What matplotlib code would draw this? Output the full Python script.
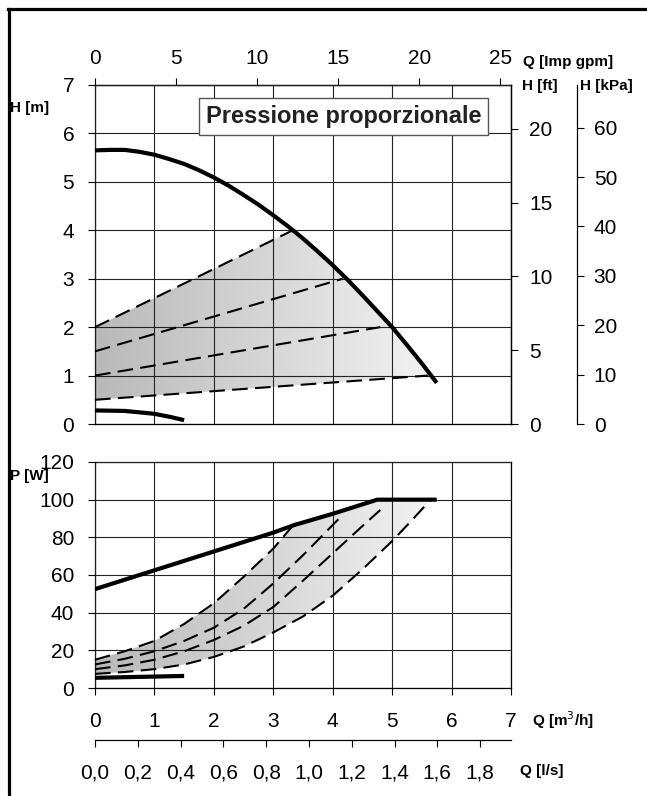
import numpy as np
import matplotlib
matplotlib.use("Agg")
import matplotlib.pyplot as plt
from matplotlib.colors import LinearSegmentedColormap
from matplotlib.lines import Line2D
from matplotlib.patches import Polygon

plt.rcParams['font.family'] = ['Liberation Sans', 'DejaVu Sans']

# head curves  (Q in m3/h, H in m)
q_hmax = [0, 0.25, 0.5, 0.75, 1, 1.25, 1.5, 1.75, 2, 2.25, 2.5, 2.75, 3,
          3.25, 3.5, 3.75, 4, 4.25, 4.5, 4.75, 5, 5.25, 5.5, 5.75]
h_max = [5.65, 5.66, 5.66, 5.62, 5.56, 5.47, 5.37, 5.24, 5.09, 4.92, 4.73, 4.53, 4.31,
         4.08, 3.83, 3.56, 3.28, 2.98, 2.66, 2.33, 2.0, 1.63, 1.25, 0.85]
q_hmin = [0, 0.5, 1, 1.25, 1.5]
h_min = [0.28, 0.27, 0.21, 0.15, 0.08]

# proportional pressure set lines (start, end)
pp_q = [[0, 3.33], [0, 4.17], [0, 4.8], [0, 5.6]]
pp_h = [[2.0, 4.0], [1.5, 3.0], [1.0, 2.0], [0.5, 1.0]]

# power curves  (Q in m3/h, P in W)
q_pmax = [0, 1, 2, 3, 3.35, 4, 4.75, 5.75]
p_max = [52.5, 62.5, 72.5, 82.5, 86.5, 92.5, 100, 100]
q_pmin = [0, 1.5]
p_min = [5.4, 6.4]

pq1 = [0, 0.5, 1, 1.5, 2, 2.5, 3, 3.35]
pp1 = [15, 19.5, 25, 34, 45, 59, 74, 87]
pq2 = [0, 0.5, 1, 1.5, 2, 2.5, 3, 3.5, 4.17]
pp2 = [12.5, 15.5, 19.5, 25, 32, 42, 55.5, 70.5, 92]
pq3 = [0, 0.5, 1, 1.5, 2, 2.5, 3, 3.5, 4, 4.5, 4.8]
pp3 = [10, 12, 15, 19.5, 25.5, 33, 43, 57, 71.5, 86, 94.5]
pq4 = [0, 0.5, 1, 1.5, 2, 2.5, 3, 3.5, 4, 4.5, 5, 5.3, 5.65]
pp4 = [7.5, 8.5, 10, 12.5, 16.5, 22, 29.5, 38, 49, 63, 78, 88, 100]

h_ticks = [0, 1, 2, 3, 4, 5, 6, 7]
ft_ticks = [0, 5, 10, 15, 20]
kpa_ticks = [0, 10, 20, 30, 40, 50, 60]
gpm_ticks = [0, 5, 10, 15, 20, 25]
q_ticks = [0, 1, 2, 3, 4, 5, 6, 7]
p_ticks = [0, 20, 40, 60, 80, 100, 120]
ls_ticks = [0, 0.2, 0.4, 0.6, 0.8, 1.0, 1.2, 1.4, 1.6, 1.8]
ls_labels = ['0,0', '0,2', '0,4', '0,6', '0,8', '1,0', '1,2', '1,4', '1,6', '1,8']

W, H = 647, 796
fig = plt.figure(figsize=(W / 100, H / 100), dpi=100)

def box(x0, y0, x1, y1):
    return [x0 / W, 1 - y1 / H, (x1 - x0) / W, (y1 - y0) / H]

ax1 = fig.add_axes(box(95, 85, 511, 424))
ax2 = fig.add_axes(box(95, 462, 511, 688))

grey = LinearSegmentedColormap.from_list('g', ['#b9b9b9', '#f3f3f3'])
grad = np.linspace(0, 1, 256).reshape(1, -1)


def shade(ax, lo_q, lo_v, hi_q, hi_v, cq, cv, ymax):
    qe, qs = lo_q[-1], hi_q[-1]
    mid = [(q, v) for q, v in zip(cq, cv) if qs < q < qe][::-1]
    pts = (list(zip(lo_q, lo_v)) + [(qe, np.interp(qe, cq, cv))] + mid
           + [(qs, np.interp(qs, cq, cv))] + list(zip(hi_q, hi_v))[::-1])
    poly = Polygon(pts, closed=True, facecolor='none', edgecolor='none')
    ax.add_patch(poly)
    im = ax.imshow(grad, extent=[0, qe + 0.1, 0, ymax], aspect='auto',
                   cmap=grey, zorder=1)
    im.set_clip_path(poly)


dash = dict(color='black', lw=1.5, dashes=(7.5, 3.5), zorder=3)
solid = dict(color='black', lw=3, solid_capstyle='butt', zorder=3)

# ---- head chart
shade(ax1, pp_q[3], pp_h[3], pp_q[0], pp_h[0], q_hmax, h_max, 7)
for q, h in zip(pp_q, pp_h):
    ax1.plot(q, h, **dash)
ax1.plot(q_hmax, h_max, **solid)
ax1.plot(q_hmin, h_min, **solid)

ax1.set_xlim(0, 7)
ax1.set_ylim(0, 7)
ax1.set_xticks(q_ticks)
ax1.set_yticks(h_ticks)
ax1.set_axisbelow(False)
ax1.grid(True, color='#222222', lw=0.8)
ax1.tick_params(axis='x', length=0, labelbottom=False)
ax1.tick_params(axis='y', direction='out', length=5, labelsize=15, pad=10)

gpm = ax1.secondary_xaxis('top', functions=(lambda q: q * 3.666, lambda g: g / 3.666))
gpm.set_xticks(gpm_ticks)
gpm.tick_params(direction='out', length=5, labelsize=15, pad=7)

ft = ax1.secondary_yaxis('right', functions=(lambda m: m * 3.2808, lambda f: f / 3.2808))
ft.set_yticks(ft_ticks)
ft.tick_params(direction='out', length=5, labelsize=15, pad=8)

kpa = ax1.secondary_yaxis(1 + 66 / 416, functions=(lambda m: m * 9.80665, lambda k: k / 9.80665))
kpa.set_yticks(kpa_ticks)
kpa.tick_params(direction='out', length=5, labelsize=15, pad=7)

ax1.text(4.18, 6.35, 'Pressione proporzionale', fontsize=17, fontweight='bold',
         color='#222222', ha='center', va='center', zorder=5,
         bbox=dict(boxstyle='square,pad=0.3', fc='white', ec='#555555', lw=1))

# ---- power chart
shade(ax2, pq4, pp4, pq1, pp1, q_pmax, p_max, 120)
for q, p in [(pq1, pp1), (pq2, pp2), (pq3, pp3), (pq4, pp4)]:
    ax2.plot(q, p, **dash)
ax2.plot(q_pmax, p_max, **solid)
ax2.plot(q_pmin, p_min, **solid)

ax2.set_xlim(0, 7)
ax2.set_ylim(0, 120)
ax2.set_xticks(q_ticks)
ax2.set_yticks(p_ticks)
ax2.set_axisbelow(False)
ax2.grid(True, color='#222222', lw=0.8)
ax2.tick_params(axis='x', direction='out', length=5, labelsize=15, pad=12)
ax2.tick_params(axis='y', direction='out', length=5, labelsize=15, pad=10)

ls = ax2.secondary_xaxis(-52 / 226, functions=(lambda q: q / 3.6, lambda l: l * 3.6))
ls.set_xticks(ls_ticks, ls_labels)
ls.tick_params(direction='out', length=5, labelsize=15, pad=12)

for a in (ax1, ax2, gpm, ft, kpa, ls):
    for s in a.spines.values():
        s.set_linewidth(0.9)

# ---- unit labels
lab = dict(fontsize=11, fontweight='bold', va='center')
fig.text(10 / W, 1 - 108 / H, 'H [m]', **lab)
fig.text(10 / W, 1 - 476 / H, 'P [W]', **lab)
fig.text(523 / W, 1 - 62 / H, 'Q [Imp gpm]', **lab)
fig.text(522 / W, 1 - 86 / H, 'H [ft]', **lab)
fig.text(580 / W, 1 - 86 / H, 'H [kPa]', **lab)
fig.text(532 / W, 1 - 720 / H, 'Q [m$^3$/h]', **lab)
fig.text(520 / W, 1 - 771 / H, 'Q [l/s]', **lab)

# ---- outer frame (left and top only)
fig.add_artist(Line2D([8.5 / W, 8.5 / W], [0, 1 - 8.5 / H], color='black', lw=2.3,
                      transform=fig.transFigure))
fig.add_artist(Line2D([7.5 / W, 1], [1 - 8.5 / H, 1 - 8.5 / H], color='black', lw=2.3,
                      transform=fig.transFigure))

fig.savefig('out.png', dpi=100)
